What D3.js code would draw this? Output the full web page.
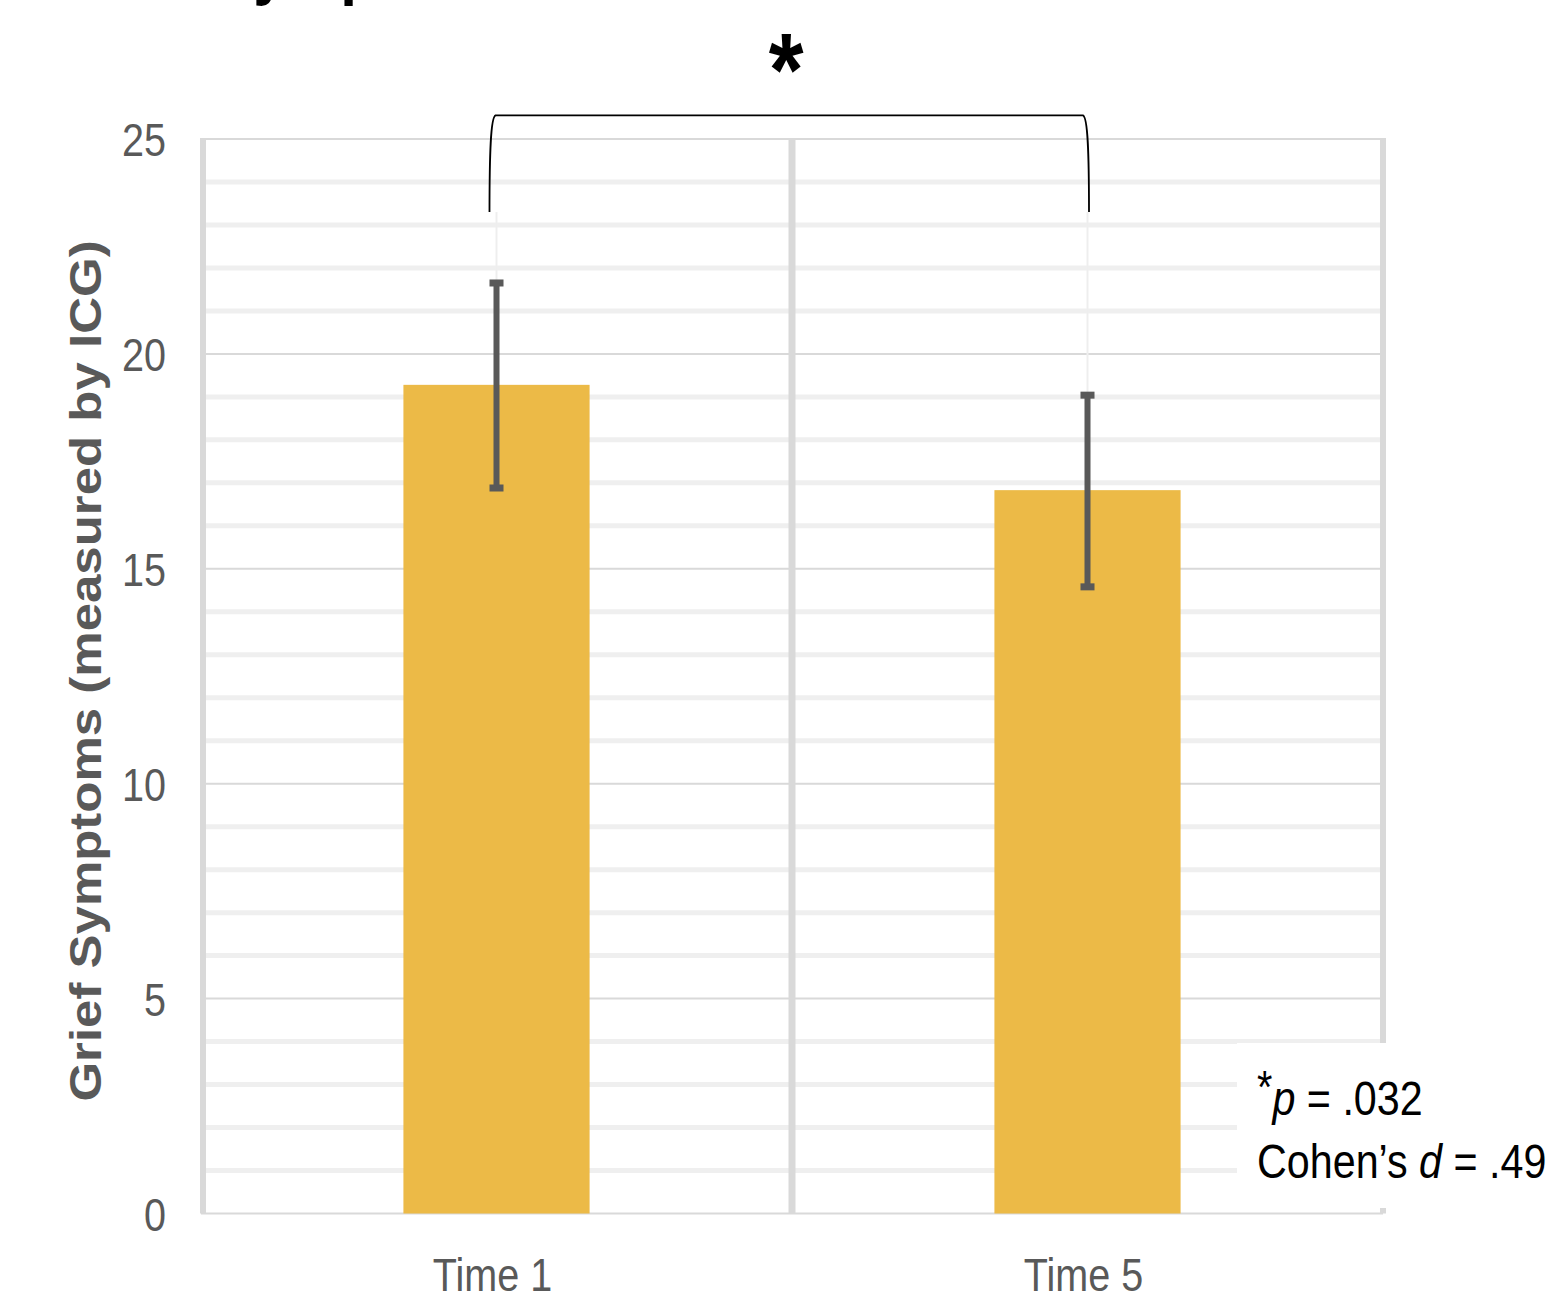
<!DOCTYPE html>
<html>
<head>
<meta charset="utf-8">
<script src="https://cdn.jsdelivr.net/npm/d3@7"></script>
<style>
  body { margin: 0; background: #fff; }
  svg { display: block; }
  text { font-family: "Liberation Sans", Arial, sans-serif; }
</style>
</head>
<body>
<svg id="chart" width="1560" height="1300"></svg>
<script>
// DATA ---------------------------------------------------------------
const categories = ["Time 1", "Time 5"];
const means = [19.28, 16.83];
const errUpper = [21.65, 19.04];
const errLower = [16.88, 14.58];
const yTicks = [0, 5, 10, 15, 20, 25];
const minorTicks = d3.range(1, 25).filter(v => v % 5 !== 0);
const titleText = "Grief Symptoms Over Time";
const yLabel = "Grief Symptoms (measured by ICG)";
const bracketEnd = 23.3;   // where the bracket legs stop
const bracketTop = 25.55;  // bracket crossbar

const svg = d3.select("#chart");
const SQ = 0.86; // reference text is a bit narrow

const margin = { top: 139, right: 177, bottom: 86.5, left: 201 };
const width = 1560, height = 1300;

// SCALES -------------------------------------------------------------
const x = d3.scaleBand()
    .domain(categories)
    .range([margin.left, width - margin.right])
    .padding(0);

const y = d3.scaleLinear()
    .domain([0, 25])
    .range([height - margin.bottom, margin.top]);

const squish = (sel, tx, ty, extra = "") =>
    sel.attr("transform", `translate(${tx},${ty}) scale(${SQ},1) ${extra}`);

// cut-off title at the very top
squish(svg.append("text"), 56, -9)
    .attr("font-size", 70)
    .attr("font-weight", "bold")
    .attr("fill", "#000")
    .text(titleText);

// GRID ---------------------------------------------------------------
const grid = svg.append("g");
const x0 = x.range()[0], x1 = x.range()[1];

grid.selectAll(".minor")
    .data(minorTicks)
    .enter().append("line")
    .attr("x1", x0).attr("x2", x1)
    .attr("y1", d => y(d)).attr("y2", d => y(d))
    .attr("stroke", "#efefef")
    .attr("stroke-width", 5);

grid.selectAll(".major")
    .data(yTicks)
    .enter().append("line")
    .attr("x1", x0).attr("x2", x1)
    .attr("y1", d => y(d)).attr("y2", d => y(d))
    .attr("stroke", "#d9d9d9")
    .attr("stroke-width", 2);

// vertical category boundaries (left, middle, right)
const bounds = [x0, x(categories[1]), x1];
grid.selectAll(".vline")
    .data(bounds)
    .enter().append("line")
    .attr("x1", (d, i) => d + (i === 0 ? 2 : 0))
    .attr("x2", (d, i) => d + (i === 0 ? 2 : 0))
    .attr("y1", y(25) - 1).attr("y2", y(0))
    .attr("stroke", "#d9d9d9")
    .attr("stroke-width", (d, i) => i === 1 ? 7 : 6);

// Y AXIS LABELS ------------------------------------------------------
svg.selectAll(".ytick")
    .data(yTicks)
    .enter().append("text")
    .each(function (d) {
        squish(d3.select(this), 166, y(d) + 17);
    })
    .attr("text-anchor", "end")
    .attr("font-size", 46)
    .attr("fill", "#595959")
    .text(d => d);

squish(svg.append("text"), 101, 671, "rotate(-90)")
    .attr("text-anchor", "middle")
    .attr("font-size", 51)
    .attr("font-weight", "bold")
    .attr("fill", "#595959")
    .text(yLabel);

// X AXIS LABELS ------------------------------------------------------
svg.selectAll(".xtick")
    .data(categories)
    .enter().append("text")
    .each(function (d) {
        squish(d3.select(this), x(d) + x.bandwidth() / 2 - 4, 1291);
    })
    .attr("text-anchor", "middle")
    .attr("font-size", 46)
    .attr("fill", "#595959")
    .text(d => d);

// BARS ---------------------------------------------------------------
const barW = x.bandwidth() * 0.315;
const cx = d => x(d) + x.bandwidth() / 2;

svg.selectAll(".bar")
    .data(categories)
    .enter().append("rect")
    .attr("x", d => cx(d) - barW / 2)
    .attr("y", (d, i) => y(means[i]))
    .attr("width", barW)
    .attr("height", (d, i) => y(0) - y(means[i]))
    .attr("fill", "#ecba47");

// faint guide lines from bracket legs down to error bars
svg.selectAll(".guide")
    .data(categories)
    .enter().append("line")
    .attr("x1", d => cx(d)).attr("x2", d => cx(d))
    .attr("y1", y(bracketEnd)).attr("y2", (d, i) => y(errUpper[i]))
    .attr("stroke", "#eeeeee")
    .attr("stroke-width", 2);

// ERROR BARS ---------------------------------------------------------
const eb = svg.selectAll(".err")
    .data(categories)
    .enter().append("g");

eb.append("line")
    .attr("x1", d => cx(d)).attr("x2", d => cx(d))
    .attr("y1", (d, i) => y(errUpper[i])).attr("y2", (d, i) => y(errLower[i]))
    .attr("stroke", "#595959")
    .attr("stroke-width", 6);

[errUpper, errLower].forEach(arr => {
    eb.append("rect")
        .attr("x", d => cx(d) - 7)
        .attr("y", (d, i) => y(arr[i]) - 3.5)
        .attr("width", 14)
        .attr("height", 7)
        .attr("fill", "#595959");
});

// SIGNIFICANCE BRACKET -----------------------------------------------
const bl = cx(categories[0]) - 7, br = cx(categories[1]) + 1.5;
const yb = y(bracketEnd), yt = y(bracketTop);
const bracket = d3.path();
bracket.moveTo(bl, yb);
bracket.bezierCurveTo(bl, yt + 40, bl + 1, yt + 2, bl + 6, yt);
bracket.lineTo(br - 6, yt);
bracket.bezierCurveTo(br - 1, yt + 2, br, yt + 40, br, yb);

svg.append("path")
    .attr("d", bracket.toString())
    .attr("fill", "none")
    .attr("stroke", "#000")
    .attr("stroke-width", 1.8);

squish(svg.append("text"), (bl + br) / 2 - 3, 106)
    .attr("text-anchor", "middle")
    .attr("font-size", 104)
    .attr("font-weight", "bold")
    .attr("fill", "#000")
    .text("*");

// STATS NOTE ---------------------------------------------------------
svg.append("rect")
    .attr("x", 1237).attr("y", 1043)
    .attr("width", 330).attr("height", 165)
    .attr("fill", "#fff");

const note1 = squish(svg.append("text"), 1257, 1115)
    .attr("font-size", 48)
    .attr("fill", "#000");
note1.append("tspan").attr("font-size", 46).attr("dy", -12).text("*");
note1.append("tspan").attr("font-style", "italic").attr("dy", 12).text("p");
note1.append("tspan").text(" = .032");

const note2 = squish(svg.append("text"), 1257, 1178)
    .attr("font-size", 48)
    .attr("fill", "#000");
note2.append("tspan").text("Cohen\u2019s ");
note2.append("tspan").attr("font-style", "italic").text("d");
note2.append("tspan").text(" = .49");
</script>
</body>
</html>
